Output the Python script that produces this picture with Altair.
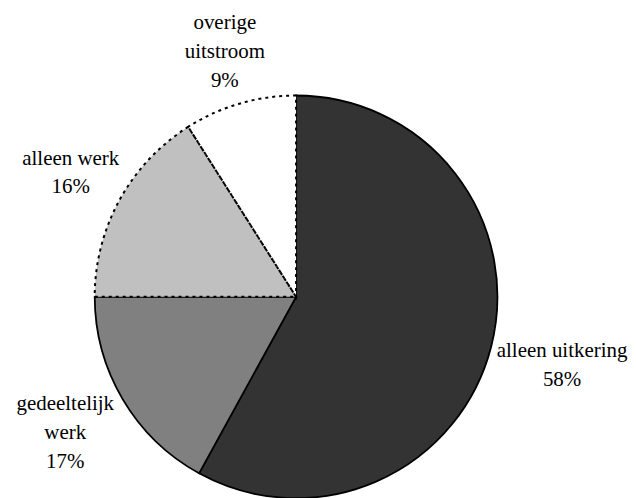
import altair as alt
import pandas as pd

categories = ["alleen uitkering", "gedeeltelijk werk", "alleen werk", "overige uitstroom"]
labels = ["alleen uitkering\n58%", "gedeeltelijk\nwerk\n17%", "alleen werk\n16%", "overige\nuitstroom\n9%"]
values = [58, 17, 16, 9]
colors = ["#333333", "#808080", "#c0c0c0", "#ffffff"]
line_styles = ["solid", "solid", "dotted", "dotted"]

df = pd.DataFrame({
    "cat": categories,
    "label": labels,
    "value": values,
    "idx": list(range(len(values))),
    "ls": line_styles,
})

cx, cy = 289, 289
R = 202
LH = 29

base = alt.Chart(df).encode(
    theta=alt.Theta("value:Q", stack=True),
    order=alt.Order("idx:Q"),
    x=alt.value(cx),
    y=alt.value(cy),
)

# fills with solid outlines (solid-outlined slices only)
pie = base.mark_arc(radius=R, stroke="black", strokeWidth=1.8).encode(
    color=alt.Color("cat:N", scale=alt.Scale(domain=categories, range=colors), legend=None),
    strokeOpacity=alt.condition("datum.ls == 'solid'", alt.value(1), alt.value(0)),
)

# dotted outlines for the remaining slices
dotted = base.mark_arc(radius=R, stroke="black", strokeWidth=2, strokeDash=[3, 4], fillOpacity=0).encode(
    strokeOpacity=alt.condition("datum.ls == 'dotted'", alt.value(1), alt.value(0)),
)

text = (
    alt.Chart(df)
    .transform_window(cum="sum(value)", sort=[alt.SortField("idx")], frame=[None, 0])
    .transform_joinaggregate(total="sum(value)")
    .transform_calculate(
        mid="2*PI*(datum.cum - datum.value/2)/datum.total",
        lines="split(datum.label, '\\n')",
    )
    .transform_calculate(
        nl="length(datum.lines)",
        maxc="max(length(datum.lines[0]), length(datum.lines[1] || ''), length(datum.lines[2] || ''))",
    )
    .transform_calculate(
        lr=f"{R + 2} + abs(sin(datum.mid))*datum.maxc*8.3/2 + abs(cos(datum.mid))*datum.nl*{LH}/2",
    )
    .transform_calculate(
        tx=f"{cx} + datum.lr*sin(datum.mid)",
        ty=f"{cy} - datum.lr*cos(datum.mid) - (datum.nl-1)*{LH}/2",
    )
    .mark_text(
        font="Times New Roman", fontSize=21, lineBreak="\n", lineHeight=LH,
        align="center", baseline="middle", color="black",
    )
    .encode(
        x=alt.X("tx:Q", scale=None, axis=None),
        y=alt.Y("ty:Q", scale=None, axis=None),
        text="label:N",
    )
)

chart = alt.layer(pie, dotted, text).properties(
    width=620, height=482, padding=0, background="white",
).configure_view(strokeWidth=0)

chart.save("out.html", embed_options={"renderer": "svg", "actions": False})
